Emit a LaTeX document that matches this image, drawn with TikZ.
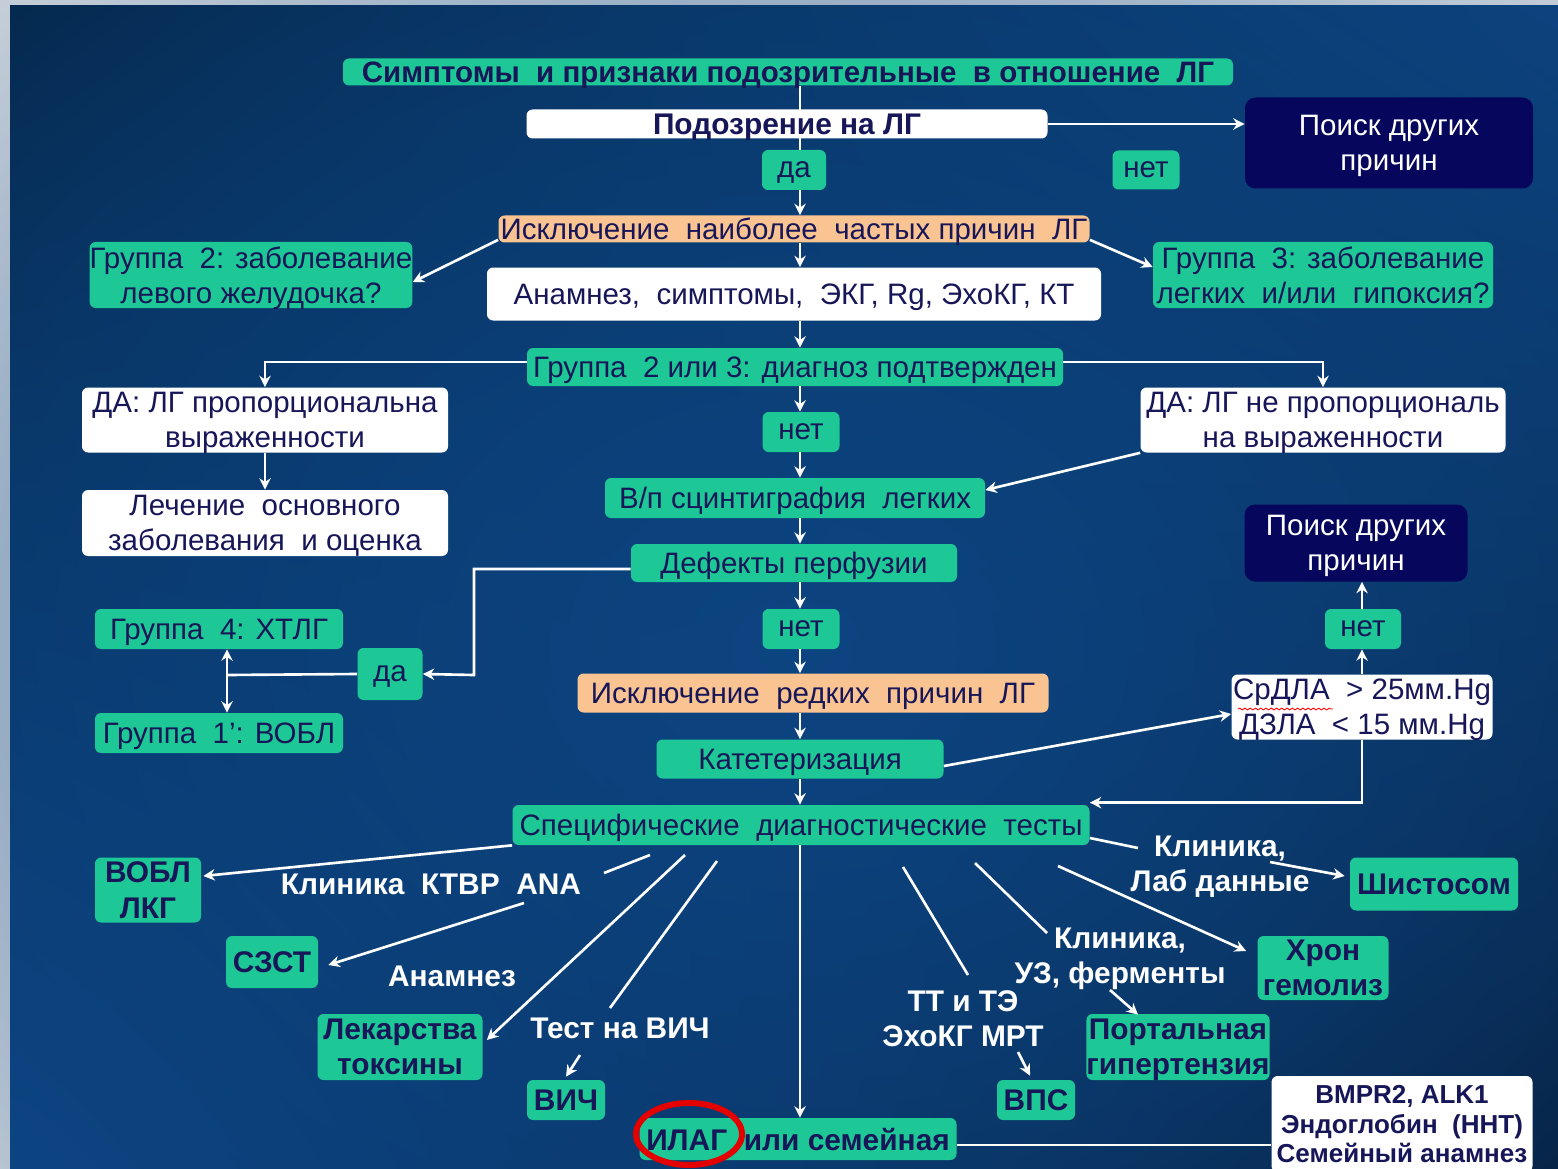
\documentclass[tikz,border=0pt]{standalone}
\usepackage{fontspec}
\setmainfont{Liberation Sans}
\usetikzlibrary{arrows.meta,decorations.pathmorphing,calc,fadings,shadings}
\tikzfading[name=myfade, inner color=transparent!0, outer color=transparent!100]
\definecolor{grn}{RGB}{30,200,150}
\definecolor{org}{RGB}{250,196,146}
\definecolor{navy}{RGB}{6,6,92}
\definecolor{txt}{RGB}{22,22,88}
\definecolor{bgUL}{RGB}{4,36,68}
\definecolor{bgUR}{RGB}{12,66,124}
\definecolor{bgLL}{RGB}{12,68,130}
\definecolor{bgLR}{RGB}{6,26,52}
\definecolor{bgM}{RGB}{13,72,136}
\definecolor{strip}{RGB}{232,232,232}
\pgfdeclarelayer{bg}
\pgfsetlayers{bg,main}
\begin{document}
\begin{tikzpicture}[x=0.02cm,y=-0.02cm,
  base/.style={inner sep=0pt, align=center, rounded corners=3.5pt, text=txt,
    text depth=0pt, font=\fontsize{16.8}{20}\selectfont},
  sz/.style 2 args={minimum width=#1*0.02cm, minimum height=#2*0.02cm},
  g/.style={base, fill=grn},
  o/.style={base, fill=org},
  w/.style={base, fill=white},
  nv/.style={base, fill=navy, text=white, rounded corners=6pt},
  bf/.style={font=\fontsize{17}{20}\selectfont\bfseries},
  lbl/.style={text=white, font=\fontsize{17}{20}\selectfont\bfseries, inner sep=0pt, align=center},
  ar/.style={draw=white, line width=1.5pt, -{Stealth[length=6.5pt,width=6.5pt]}},
  ln/.style={draw=white, line width=1.5pt},
]
\useasboundingbox (0,0) rectangle (1558,1169);
\clip (0,0) rectangle (1558,1169);
\begin{pgfonlayer}{bg}
\fill[strip] (0,0) rectangle (1558,1169);
\shade[upper left=bgUL, upper right=bgUR, lower left=bgLL, lower right=bgLR] (10,6) rectangle (1558,1169);
\fill[bgM, fill opacity=0.85, path fading=myfade] (800,650) ellipse [x radius=1400, y radius=1100];
\end{pgfonlayer}

\coordinate (cx) at (800,0);

\node[g, sz={890}{27}, font=\fontsize{16.8}{19}\selectfont\bfseries] (title) at (788,72) {Симптомы~ и признаки подозрительные~ в отношение~ ЛГ};
\node[w, sz={521}{29}, bf] (susp) at (787,124) {Подозрение на ЛГ};
\node[g, sz={64}{40}] (da1) at (794,170) {да};
\node[g, sz={67}{39}] (net1) at (1146,170) {нет};
\node[nv, sz={288}{91}] (poisk1) at (1389,143) {Поиск других\\причин};
\node[o, sz={591}{27}] (iskl) at (794,229) {Исключение~ наиболее~ частых причин~ ЛГ};
\node[w, sz={614}{53}] (anam) at (794,294) {Анамнез,~ симптомы,~ ЭКГ, Rg, ЭхоКГ, КТ};
\node[g, sz={313}{66}] (gr2) at (251,275) {Группа~ 2: заболевание\\левого желудочка?};
\node[g, sz={340}{66}] (gr3) at (1323,275) {Группа~ 3: заболевание\\легких~ и/или~ гипоксия?};
\node[g, sz={536}{38}] (gr23) at (795,367) {Группа~ 2 или 3: диагноз подтвержден};
\node[w, sz={366}{65}] (daprop) at (265,420) {ДА: ЛГ пропорциональна\\выраженности};
\node[w, sz={366}{66}] (lech) at (265,523) {Лечение~ основного\\заболевания~ и оценка};
\node[w, sz={365}{65}] (danp) at (1323,420) {ДА: ЛГ не пропорциональ\\на выраженности};
\node[g, sz={77}{40}] (net2) at (801,432) {нет};
\node[g, sz={380}{40}] (scint) at (795,498) {В/п сцинтиграфия~ легких};
\node[g, sz={326}{38}] (def) at (794,563) {Дефекты перфузии};
\node[g, sz={77}{40}] (net3) at (801,629) {нет};
\node[g, sz={65}{52}] (da2) at (390,674) {да};
\node[g, sz={248}{40}] (gr4) at (219,629) {Группа~ 4: ХТЛГ};
\node[g, sz={248}{40}] (gr1) at (219,733) {Группа~ 1’: ВОБЛ};
\node[o, sz={471}{39}] (redk) at (813,693) {Исключение~ редких~ причин~ ЛГ};
\node[g, sz={287}{39}] (kat) at (800,759) {Катетеризация};
\node[w, sz={261}{65}] (srdla) at (1362,707) {СрДЛА~ > 25мм.Hg\\ДЗЛА~ < 15 мм.Hg};
\node[g, sz={76}{40}] (net4) at (1363,629) {нет};
\node[nv, sz={223}{77}] (poisk2) at (1356,543) {Поиск других\\причин};
\node[g, sz={577}{40}] (spec) at (801,825) {Специфические~ диагностические~ тесты};
\node[g, sz={317}{42}, bf] (ilag) at (798,1139) {ИЛАГ~ или семейная};
\node[w, sz={261}{96}, font=\fontsize{14.8}{16.8}\selectfont\bfseries] (bmpr) at (1402,1124) {BMPR2, ALK1\\Эндоглобин~ (ННТ)\\Семейный анамнез};

\node[g, sz={106}{65}, bf] (vobl) at (148,890) {ВОБЛ\\ЛКГ};
\node[g, sz={92}{52}, bf] (szst) at (272,962) {СЗСТ};
\node[g, sz={165}{66}, bf] (lek) at (400,1047) {Лекарства\\токсины};
\node[g, sz={78}{40}, bf] (vich) at (566,1100) {ВИЧ};
\node[g, sz={78}{40}, bf] (vps) at (1036,1100) {ВПС};
\node[g, sz={179}{66}, bf] (port) at (1178,1047) {Портальная\\гипертензия};
\node[g, sz={168}{53}, bf] (shist) at (1434,884) {Шистосом};
\node[g, sz={131}{64}, bf] (hron) at (1323,968) {Хрон\\гемолиз};

\node[lbl] (lKTVR) at (431,884) {Клиника~ КТВР~ ANA};
\node[lbl] (lAnam) at (452,976) {Анамнез};
\node[lbl] (lVich) at (620,1028) {Тест на ВИЧ};
\node[lbl] (lTT) at (963,1019) {ТТ и ТЭ\\ЭхоКГ МРТ};
\node[lbl] (lUZ) at (1120,959) {Клиника,\\УЗ, ферменты};
\node[lbl] (lLab) at (1220,867) {Клиника,\\Лаб данные};

% main column
\begin{pgfonlayer}{bg}
\draw[ln] (title.south -| cx) -- (da1.north -| cx);
\end{pgfonlayer}
\draw[ar] (da1.south -| cx) -- (iskl.north -| cx);
\draw[ar] (iskl.south -| cx) -- (anam.north -| cx);
\draw[ar] (anam.south -| cx) -- (gr23.north -| cx);
\draw[ar] (gr23.south -| cx) -- (net2.north -| cx);
\draw[ar] (net2.south -| cx) -- (scint.north -| cx);
\draw[ar] (scint.south -| cx) -- (def.north -| cx);
\draw[ar] (def.south -| cx) -- (net3.north -| cx);
\draw[ar] (net3.south -| cx) -- (redk.north -| cx);
\draw[ar] (redk.south -| cx) -- (kat.north -| cx);
\draw[ar] (kat.south -| cx) -- (spec.north -| cx);
\draw[ar] (spec.south -| cx) -- (ilag.north -| cx);

\draw[ar] (susp.east) -- (poisk1.west |- susp.east);
\draw[ar] ($(iskl.south west)+(0,-3)$) -- ($(gr2.east)+(0,7)$);
\draw[ar] ($(iskl.south east)+(0,-3)$) -- ($(gr3.west)+(0,-8)$);
\draw[ar] ($(gr23.west)+(0,-5)$) -| (daprop.north);
\draw[ar] ($(gr23.east)+(0,-5)$) -| (danp.north);
\draw[ar] (daprop.south) -- (lech.north);
\draw[ar] (danp.south west) -- ($(scint.east)+(0,-8)$);
\coordinate (dk) at (474,675);
\draw[ar] ($(def.west)+(0,6)$) -| (dk) -- (da2.east);
\coordinate (jn) at (227,675);
\draw[ln] (da2.west) -- (jn);
\draw[ar] (jn) -- (gr4.south -| jn);
\draw[ar] (jn) -- (gr1.north -| jn);
\draw[ar] ($(kat.east)+(0,7)$) -- ($(srdla.west)+(0,7)$);
\draw[ar] (srdla.north) -- (net4.south -| srdla.north);
\draw[ar] (net4.north -| srdla.north) -- (poisk2.south -| srdla.north);
\draw[ar] (srdla.south) |- ($(spec.north east)+(0,-2)$);
\draw[ln] ($(ilag.east)+(0,6)$) -- (bmpr.west |- {$(ilag.east)+(0,6)$});

% specific tests branches
\draw[ar] (spec.south west) -- ($(vobl.east)+(2,-14)$);
\coordinate (a1) at (650,855); \coordinate (a2) at (604,873); \coordinate (a3) at (524,903);
\draw[ln] (a1) -- (a2);
\draw[ar] (a3) -- ($(szst.east)+(10,3)$);
\coordinate (b1) at (685,855);
\draw[ar] (b1) -- ($(lek.east)+(4,-7)$);
\coordinate (c1) at (717,861); \coordinate (c2) at (610,1008);
\draw[ln] (c1) -- (c2);
\coordinate (c3) at (580,1055);
\draw[ar] (c3) -- ($(vich.north)+(0,-3)$);
\coordinate (d1) at (903,867); \coordinate (d2) at (968,975);
\draw[ln] (d1) -- (d2);
\coordinate (d3) at (1018,1052);
\draw[ar] (d3) -- ($(vps.north)+(-6,-4)$);
\coordinate (e1) at (975,863); \coordinate (e2) at (1047,933);
\draw[ln] (e1) -- (e2);
\coordinate (e3) at (1110,990);
\draw[ar] (e3) -- ($(port.north)+(-40,1)$);
\coordinate (f1) at (1138,848);
\draw[ln] ($(spec.east)+(0,13)$) -- (f1);
\coordinate (f2) at (1270,862);
\draw[ar] (f2) -- ($(shist.west)+(-5,-8)$);
\coordinate (h1) at (1058,866);
\draw[ar] (h1) -- ($(hron.west)+(-11,-17)$);

\draw[red, line width=0.5pt, decorate, decoration={snake, amplitude=0.5pt, segment length=3pt}] (1238,709) -- (1333,709);
\draw[red!90!black, line width=3.4pt] (689,1134) ellipse [x radius=53, y radius=31];
\end{tikzpicture}
\end{document}
